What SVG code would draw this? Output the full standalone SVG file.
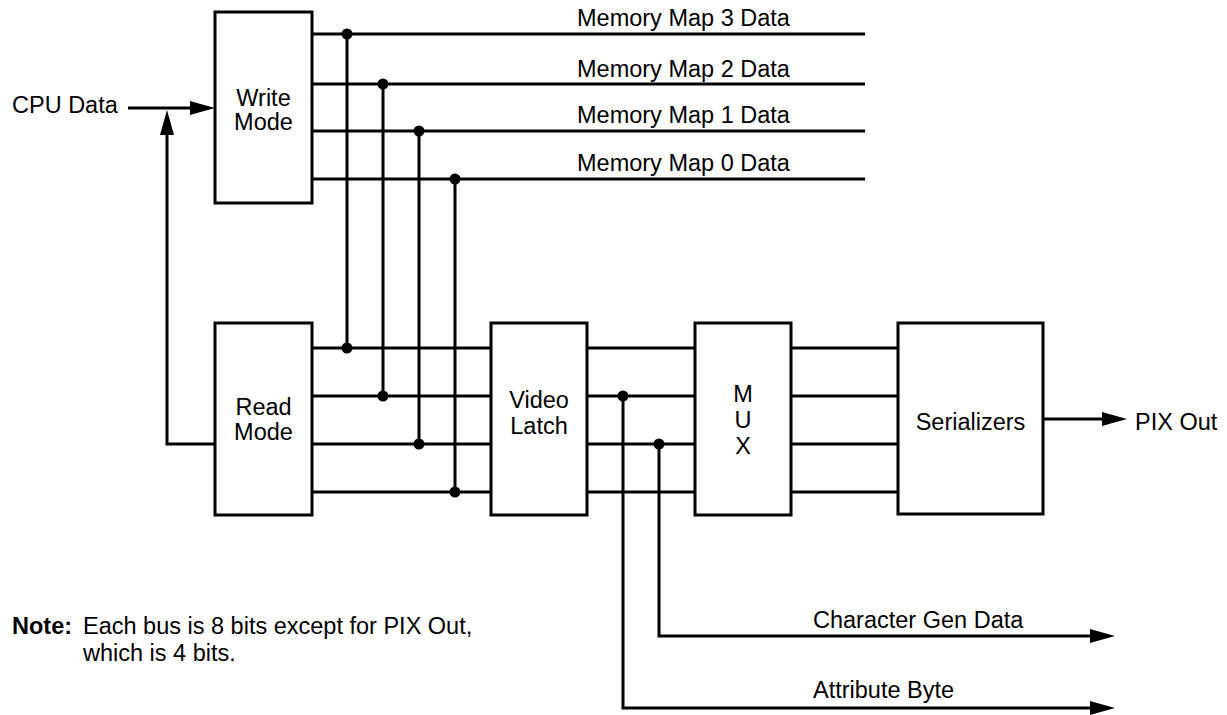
<svg xmlns="http://www.w3.org/2000/svg" width="1227" height="715" viewBox="0 0 1227 715">
<defs>
<style>
.box{fill:#fff;stroke:#000;stroke-width:3}
.ln{fill:none;stroke:#000;stroke-width:3;stroke-linejoin:miter}
.dot{fill:#000}
text{font-family:"Liberation Sans",Arial,Helvetica,sans-serif;font-size:23.5px;fill:#000}
.c{text-anchor:middle}
.b{font-weight:bold}
</style>
<marker id="ah" markerUnits="userSpaceOnUse" markerWidth="25" markerHeight="14" refX="0" refY="7" orient="auto">
<path d="M0,0 L25,7 L0,14 z" fill="#000"/>
</marker>
</defs>
<rect width="1227" height="715" fill="#fff"/>

<g id="connectors">
<!-- CPU data in -->
<line class="ln" x1="128" y1="108" x2="190" y2="108" marker-end="url(#ah)"/>
<!-- Read mode feedback -->
<polyline class="ln" points="215,444 167,444 167,135" marker-end="url(#ah)"/>
<!-- memory map lines -->
<line class="ln" x1="312" y1="34" x2="865" y2="34"/>
<line class="ln" x1="312" y1="84" x2="865" y2="84"/>
<line class="ln" x1="312" y1="131" x2="865" y2="131"/>
<line class="ln" x1="312" y1="179" x2="865" y2="179"/>
<!-- vertical buses -->
<line class="ln" x1="347" y1="34" x2="347" y2="348"/>
<line class="ln" x1="383" y1="84" x2="383" y2="396"/>
<line class="ln" x1="419" y1="131" x2="419" y2="444"/>
<line class="ln" x1="455" y1="179" x2="455" y2="492"/>
<!-- read mode to latch -->
<line class="ln" x1="312" y1="348" x2="491" y2="348"/>
<line class="ln" x1="312" y1="396" x2="491" y2="396"/>
<line class="ln" x1="312" y1="444" x2="491" y2="444"/>
<line class="ln" x1="312" y1="492" x2="491" y2="492"/>
<!-- latch to mux -->
<line class="ln" x1="587" y1="348" x2="695" y2="348"/>
<line class="ln" x1="587" y1="396" x2="695" y2="396"/>
<line class="ln" x1="587" y1="444" x2="695" y2="444"/>
<line class="ln" x1="587" y1="492" x2="695" y2="492"/>
<!-- mux to serializers -->
<line class="ln" x1="791" y1="348" x2="898" y2="348"/>
<line class="ln" x1="791" y1="396" x2="898" y2="396"/>
<line class="ln" x1="791" y1="444" x2="898" y2="444"/>
<line class="ln" x1="791" y1="492" x2="898" y2="492"/>
<!-- PIX out -->
<line class="ln" x1="1043" y1="419" x2="1102" y2="419" marker-end="url(#ah)"/>
<!-- taps -->
<polyline class="ln" points="659,444 659,636 1090,636" marker-end="url(#ah)"/>
<polyline class="ln" points="623,396 623,708 1090,708" marker-end="url(#ah)"/>
<!-- junction dots -->
<circle class="dot" cx="347" cy="34" r="5.5"/>
<circle class="dot" cx="383" cy="84" r="5.5"/>
<circle class="dot" cx="419" cy="131" r="5.5"/>
<circle class="dot" cx="455" cy="179" r="5.5"/>
<circle class="dot" cx="347" cy="348" r="5.5"/>
<circle class="dot" cx="383" cy="396" r="5.5"/>
<circle class="dot" cx="419" cy="444" r="5.5"/>
<circle class="dot" cx="455" cy="492" r="5.5"/>
<circle class="dot" cx="623" cy="396" r="5.5"/>
<circle class="dot" cx="659" cy="444" r="5.5"/>
</g>

<g id="write-mode">
<rect class="box" x="215" y="12" width="97" height="191"/>
<text class="c" x="263.5" y="106">Write</text>
<text class="c" x="263.5" y="130">Mode</text>
</g>
<g id="read-mode">
<rect class="box" x="215" y="323" width="97" height="192"/>
<text class="c" x="263.5" y="415">Read</text>
<text class="c" x="263.5" y="440">Mode</text>
</g>
<g id="video-latch">
<rect class="box" x="491" y="323" width="96" height="192"/>
<text class="c" x="539" y="408">Video</text>
<text class="c" x="539" y="434">Latch</text>
</g>
<g id="mux">
<rect class="box" x="695" y="323" width="96" height="192"/>
<text class="c" x="743" y="402">M</text>
<text class="c" x="743" y="428">U</text>
<text class="c" x="743" y="454">X</text>
</g>
<g id="serializers">
<rect class="box" x="898" y="323" width="145" height="191"/>
<text class="c" x="970.5" y="430">Serializers</text>
</g>

<g id="labels">
<text x="12" y="113">CPU Data</text>
<text x="577" y="26">Memory Map 3 Data</text>
<text x="577" y="77">Memory Map 2 Data</text>
<text x="577" y="123">Memory Map 1 Data</text>
<text x="577" y="171">Memory Map 0 Data</text>
<text x="1135" y="430">PIX Out</text>
<text x="813" y="628">Character Gen Data</text>
<text x="813" y="698">Attribute Byte</text>
</g>

<g id="note">
<text class="b" x="12" y="634">Note:</text>
<text x="83" y="634">Each bus is 8 bits except for PIX Out,</text>
<text x="83" y="661">which is 4 bits.</text>
</g>
</svg>
